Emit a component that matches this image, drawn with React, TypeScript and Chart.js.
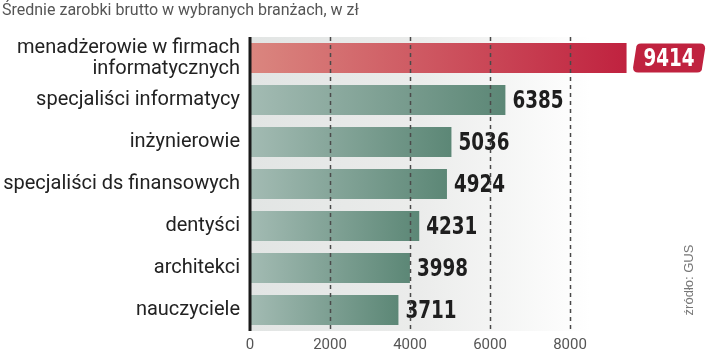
import React, { useEffect, useRef } from 'react';
import { Chart, registerables } from 'chart.js';
Chart.register(...registerables);

const titleText = 'Średnie zarobki brutto w wybranych branżach, w zł';
const sourceText = 'źródło: GUS';
const categories: (string | string[])[] = [
  ['menadżerowie w firmach', 'informatycznych'],
  'specjaliści informatycy',
  'inżynierowie',
  'specjaliści ds finansowych',
  'dentyści',
  'architekci',
  'nauczyciele',
];
const values = [9414, 6385, 5036, 4924, 4231, 3998, 3711];
const xTickValues = [0, 2000, 4000, 6000, 8000];
const gridValues = [2000, 4000, 6000, 8000];

const LABEL_FONT = "bold 25.5px 'DejaVu Sans Condensed', 'DejaVu Sans', sans-serif";
const SQUEEZE = 0.8;

function drawSqueezed(ctx: CanvasRenderingContext2D, txt: string, x: number, y: number, align: 'left' | 'center') {
  ctx.save();
  ctx.font = LABEL_FONT;
  ctx.textBaseline = 'middle';
  ctx.textAlign = align;
  ctx.translate(x, y);
  ctx.scale(SQUEEZE, 1);
  ctx.fillText(txt, 0, 0);
  ctx.restore();
}

const decor = {
  id: 'decor',
  beforeDatasetsDraw(chart: any) {
    const { ctx, chartArea: a } = chart;
    ctx.save();
    const g = ctx.createLinearGradient(a.left, 0, 590, 0);
    g.addColorStop(0, '#e2e5e4');
    g.addColorStop(0.5, '#ebeceb');
    g.addColorStop(1, '#ffffff');
    ctx.fillStyle = g;
    ctx.fillRect(a.left, a.top, a.right - a.left, a.bottom - a.top);
    ctx.restore();
  },
  afterDatasetsDraw(chart: any) {
    const { ctx, chartArea: a } = chart;
    const xs = chart.scales.x;
    const meta = chart.getDatasetMeta(0);
    ctx.save();
    meta.data.forEach((bar: any, i: number) => {
      const txt = String(values[i]);
      ctx.font = LABEL_FONT;
      const w = ctx.measureText(txt).width * SQUEEZE;
      if (i === 0) {
        const x0 = bar.x + 8;
        const h = 29;
        const bw = w + 18;
        const y0 = bar.y - h / 2;
        const r = 5;
        const sk = 1.5;
        ctx.fillStyle = '#c0223f';
        ctx.beginPath();
        ctx.moveTo(x0 + r + sk, y0);
        ctx.lineTo(x0 + bw - r + sk, y0);
        ctx.quadraticCurveTo(x0 + bw + sk, y0, x0 + bw + sk, y0 + r);
        ctx.lineTo(x0 + bw - sk, y0 + h - r);
        ctx.quadraticCurveTo(x0 + bw - sk, y0 + h, x0 + bw - r - sk, y0 + h);
        ctx.lineTo(x0 + r - sk, y0 + h);
        ctx.quadraticCurveTo(x0 - sk, y0 + h, x0 - sk, y0 + h - r);
        ctx.lineTo(x0 + sk, y0 + r);
        ctx.quadraticCurveTo(x0 + sk, y0, x0 + r + sk, y0);
        ctx.closePath();
        ctx.fill();
        ctx.fillStyle = '#ffffff';
        drawSqueezed(ctx, txt, x0 + bw / 2, bar.y + 1, 'center');
      } else {
        ctx.fillStyle = '#1e1e1e';
        drawSqueezed(ctx, txt, bar.x + 7, bar.y + 1, 'left');
      }
    });
    ctx.strokeStyle = '#4a4a4a';
    ctx.lineWidth = 1.5;
    ctx.setLineDash([4, 4]);
    gridValues.forEach((v) => {
      const x = Math.round(xs.getPixelForValue(v)) + 0.5;
      ctx.beginPath();
      ctx.moveTo(x, a.top);
      ctx.lineTo(x, a.bottom);
      ctx.stroke();
    });
    ctx.setLineDash([]);
    ctx.strokeStyle = '#1a1a1a';
    ctx.lineWidth = 3;
    ctx.beginPath();
    ctx.moveTo(a.left, a.top);
    ctx.lineTo(a.left, a.bottom);
    ctx.stroke();
    ctx.restore();
  },
  afterDraw(chart: any) {
    const { ctx } = chart;
    ctx.save();
    ctx.fillStyle = '#555555';
    ctx.font = "16px Roboto, 'Liberation Sans', sans-serif";
    ctx.textBaseline = 'middle';
    ctx.textAlign = 'left';
    ctx.fillText(titleText, 2, 11);
    ctx.translate(689, 280);
    ctx.rotate(-Math.PI / 2);
    ctx.fillStyle = '#777777';
    ctx.font = "13px 'Liberation Sans', Arial, sans-serif";
    ctx.textAlign = 'center';
    ctx.fillText(sourceText, 0, 0);
    ctx.restore();
  },
};

export default function App() {
  const ref = useRef<HTMLCanvasElement>(null);
  useEffect(() => {
    if (!ref.current) return;
    const chart = new Chart(ref.current, {
      type: 'bar',
      data: {
        labels: categories,
        datasets: [
          {
            data: values,
            backgroundColor: (c: any) => {
              const ch = c.chart;
              const xs = ch.scales && ch.scales.x;
              if (!xs || !ch.chartArea) return '#6f978a';
              const x0 = xs.getPixelForValue(0);
              const x1 = xs.getPixelForValue(values[c.dataIndex]);
              const g = ch.ctx.createLinearGradient(x0, 0, x1, 0);
              if (c.dataIndex === 0) {
                g.addColorStop(0, '#da867f');
                g.addColorStop(1, '#c0223f');
              } else {
                g.addColorStop(0, '#a3bbb3');
                g.addColorStop(1, '#5c8776');
              }
              return g;
            },
            borderWidth: 0,
            barPercentage: 0.71,
            categoryPercentage: 1,
          },
        ],
      },
      options: {
        indexAxis: 'y',
        responsive: false,
        animation: false,
        devicePixelRatio: 1,
        layout: { padding: { top: 37, right: 70, bottom: 0, left: 0 } },
        plugins: { legend: { display: false }, tooltip: { enabled: false }, title: { display: false } },
        scales: {
          x: {
            min: 0,
            max: 10000,
            afterFit: (s: any) => { s.height = 24; },
            afterBuildTicks: (s: any) => { s.ticks = xTickValues.map((v) => ({ value: v })); },
            grid: { display: false, drawTicks: false },
            border: { display: false },
            ticks: {
              padding: 5,
              color: '#555555',
              font: { family: "Roboto, 'Liberation Sans', sans-serif", size: 15 },
              maxRotation: 0,
              autoSkip: false,
              callback: (v: any) => String(v),
            },
          },
          y: {
            afterFit: (s: any) => { s.width = 250; },
            grid: { display: false, drawTicks: false },
            border: { display: false },
            ticks: {
              padding: 10,
              color: '#222222',
              font: { family: "Roboto, 'Liberation Sans', sans-serif", size: 20, lineHeight: 1.05 },
              autoSkip: false,
            },
          },
        },
      },
      plugins: [decor],
    } as any);
    return () => chart.destroy();
  }, []);
  return (
    <div style={{ position: 'absolute', left: 0, top: 0, width: 720, height: 362, background: '#fff' }}>
      <canvas ref={ref} width={720} height={362} style={{ display: 'block' }} />
    </div>
  );
}
